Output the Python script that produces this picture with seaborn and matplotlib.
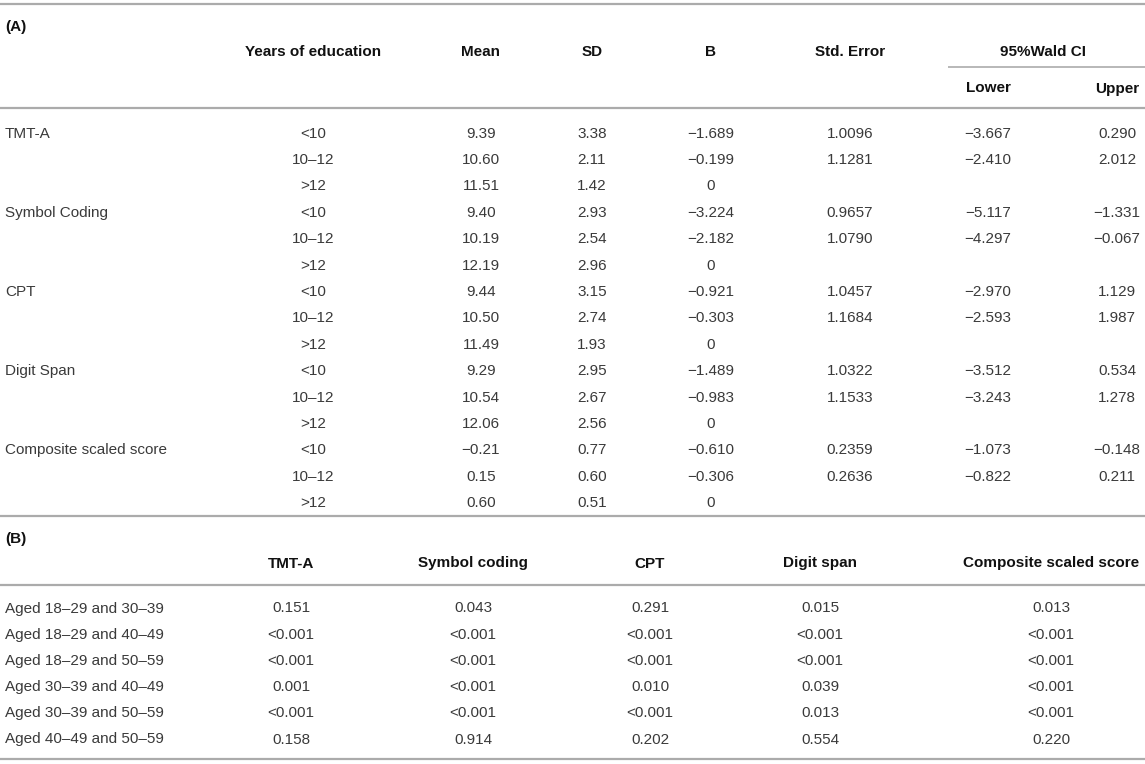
import matplotlib
matplotlib.use("Agg")
import matplotlib.pyplot as plt
import seaborn as sns

# Table (A): scores by years of education
tests = ["TMT-A", "Symbol Coding", "CPT", "Digit Span", "Composite scaled score"]
edu_levels = ["<10", "10–12", ">12"]
mean = [9.39, 10.60, 11.51, 9.40, 10.19, 12.19, 9.44, 10.50, 11.49,
        9.29, 10.54, 12.06, -0.21, 0.15, 0.60]
sd = [3.38, 2.11, 1.42, 2.93, 2.54, 2.96, 3.15, 2.74, 1.93,
      2.95, 2.67, 2.56, 0.77, 0.60, 0.51]
b_coef = [-1.689, -0.199, 0, -3.224, -2.182, 0, -0.921, -0.303, 0,
          -1.489, -0.983, 0, -0.610, -0.306, 0]
std_err = [1.0096, 1.1281, None, 0.9657, 1.0790, None, 1.0457, 1.1684, None,
           1.0322, 1.1533, None, 0.2359, 0.2636, None]
ci_lower = [-3.667, -2.410, None, -5.117, -4.297, None, -2.970, -2.593, None,
            -3.512, -3.243, None, -1.073, -0.822, None]
ci_upper = [0.290, 2.012, None, -1.331, -0.067, None, 1.129, 1.987, None,
            0.534, 1.278, None, -0.148, 0.211, None]

# Table (B): p-values for age group comparisons
b_headers = ["TMT-A", "Symbol coding", "CPT", "Digit span", "Composite scaled score"]
comparisons = ["Aged 18–29 and 30–39", "Aged 18–29 and 40–49", "Aged 18–29 and 50–59",
               "Aged 30–39 and 40–49", "Aged 30–39 and 50–59", "Aged 40–49 and 50–59"]
p_tmt = ["0.151", "<0.001", "<0.001", "0.001", "<0.001", "0.158"]
p_symbol = ["0.043", "<0.001", "<0.001", "<0.001", "<0.001", "0.914"]
p_cpt = ["0.291", "<0.001", "<0.001", "0.010", "<0.001", "0.202"]
p_digit = ["0.015", "<0.001", "<0.001", "0.039", "0.013", "0.554"]
p_comp = ["0.013", "<0.001", "<0.001", "<0.001", "<0.001", "0.220"]


def fmt(v, nd):
    if v is None:
        return ""
    if v == 0 and nd == 3:
        return "0"
    return f"{v:.{nd}f}".replace("-", "−")


sns.set_theme(style="white")
plt.rcParams["font.family"] = ["Liberation Sans", "DejaVu Sans"]

fig = plt.figure(figsize=(11.45, 7.64), dpi=100)
ax = fig.add_axes([0, 0, 1, 1])
ax.set_xlim(0, 1145)
ax.set_ylim(764, 0)
ax.axis("off")

FS = 11
TXT = "#3a3a3a"
HDR = "#111111"
LINE = "#ababab"
off = 5.5  # centre -> baseline


def t(x, y, s, ha="center", bold=False):
    ax.text(x, y + off, s, ha=ha, va="baseline", fontsize=FS,
            color=HDR if bold else TXT, fontweight="bold" if bold else "normal")


def hline(y, x0=0, x1=1145, lw=1.6):
    ax.plot([x0, x1], [y, y], color=LINE, lw=lw, solid_capstyle="butt")


# rules
hline(4)
hline(108)
hline(67, 948, 1145, lw=1.2)
hline(516)
hline(585)
hline(759)

# ---- (A)
t(5, 25, "(A)", ha="left", bold=True)
cols_a = [313, 481, 592, 711, 850]
for x, h in zip(cols_a, ["Years of education", "Mean", "SD", "B", "Std. Error"]):
    t(x, 50, h, bold=True)
t(1043, 50, "95%Wald CI", bold=True)
t(988, 87, "Lower", bold=True)
t(1117, 87, "Upper", bold=True)

row0, dy = 132, 26.4
for i in range(len(mean)):
    y = row0 + i * dy
    if i % 3 == 0:
        t(5, y, tests[i // 3], ha="left")
    t(313, y, edu_levels[i % 3])
    t(481, y, fmt(mean[i], 2))
    t(592, y, fmt(sd[i], 2))
    t(711, y, fmt(b_coef[i], 3))
    t(850, y, fmt(std_err[i], 4))
    t(988, y, fmt(ci_lower[i], 3))
    t(1117, y, fmt(ci_upper[i], 3))

# ---- (B)
t(5, 538, "(B)", ha="left", bold=True)
cols_b = [291, 473, 650, 820, 1051]
for x, h in zip(cols_b, b_headers):
    t(x, 562, h, bold=True)

columns = [p_tmt, p_symbol, p_cpt, p_digit, p_comp]
for j, lab in enumerate(comparisons):
    y = 607 + j * 26.2
    t(5, y, lab, ha="left")
    for x, col in zip(cols_b, columns):
        t(x, y, col[j])

fig.savefig("out.png", dpi=100, facecolor="white")
